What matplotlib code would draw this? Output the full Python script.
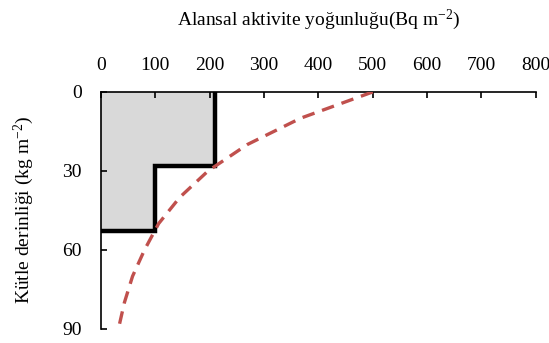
import matplotlib
matplotlib.use("Agg")
import matplotlib.pyplot as plt

plt.rcParams['font.family'] = ['Liberation Serif', 'DejaVu Serif']
plt.rcParams['mathtext.fontset'] = 'custom'
plt.rcParams['mathtext.rm'] = 'Liberation Serif'
plt.rcParams['mathtext.default'] = 'regular'

# Measured layer inventory (step profile)
layer_depths = [0, 28, 28, 53, 53]
layer_activity = [210, 210, 100, 100, 0]

# Modelled profile (dashed curve)
model_depth = [0, 10, 20, 30, 40, 50, 60, 70, 80, 90]
model_activity = [500, 367, 269, 197, 145, 106, 80, 58, 43, 32]

x_ticks = [0, 100, 200, 300, 400, 500, 600, 700, 800]
y_ticks = [0, 30, 60, 90]

fig = plt.figure(figsize=(5.49, 3.43), dpi=100)
ax = fig.add_axes([0.184, 0.041, 0.792, 0.691])

# gray shaded area under the step profile
ax.fill_betweenx([0, 28], 0, 210, color='#D9D9D9', lw=0)
ax.fill_betweenx([28, 53], 0, 100, color='#D9D9D9', lw=0)
ax.plot([layer_activity[0]] + layer_activity, [0] + layer_depths, color='black', lw=3.2,
        solid_joinstyle='miter', zorder=3)

ax.plot(model_activity, model_depth, color='#C0504D', lw=2.4, dashes=(3.8, 2.4), zorder=4)

ax.set_xlim(0, 800)
ax.set_ylim(90, 0)
ax.set_xticks(x_ticks)
ax.set_yticks(y_ticks)

ax.xaxis.set_ticks_position('top')
ax.xaxis.set_label_position('top')
ax.spines['bottom'].set_visible(False)
ax.spines['right'].set_visible(False)
for s in ('top', 'left'):
    ax.spines[s].set_linewidth(1.2)
ax.tick_params(axis='both', direction='in', length=4, width=1.2, labelsize=14)
ax.tick_params(axis='x', pad=13)
ax.tick_params(axis='y', pad=14)

ax.set_xlabel('Alansal aktivite yoğunluğu(Bq m$^{-2}$)', fontsize=14, labelpad=23)
ax.set_ylabel('Kütle derinliği (kg m$^{-2}$)', fontsize=14, labelpad=19)

fig.savefig('out.png', dpi=100)
